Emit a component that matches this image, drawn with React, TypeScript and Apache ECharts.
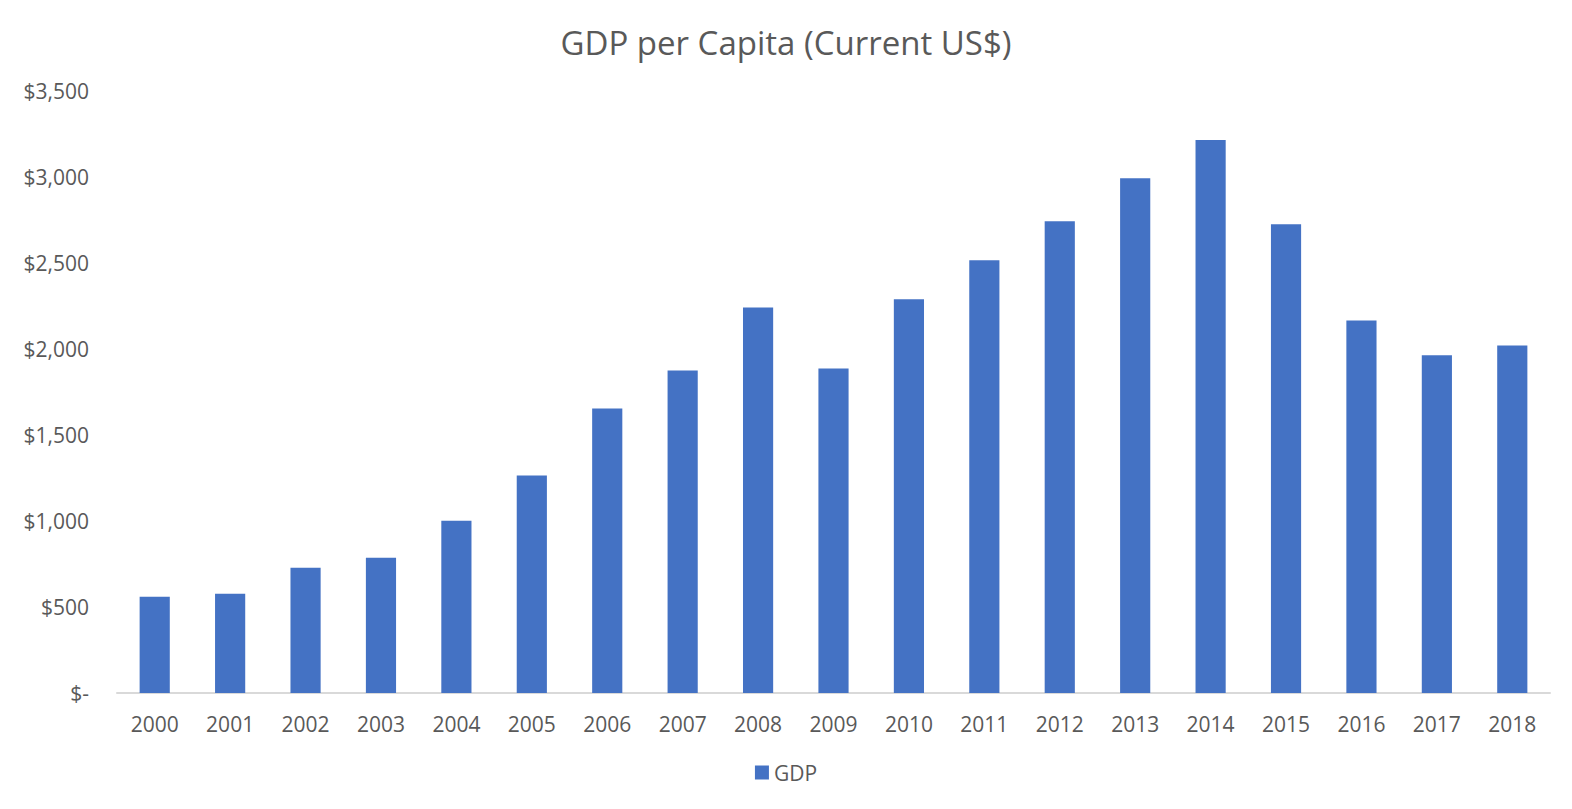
import React, { useEffect, useRef } from "react";
import * as echarts from "echarts";

const years = ["2000","2001","2002","2003","2004","2005","2006","2007","2008","2009","2010","2011","2012","2013","2014","2015","2016","2017","2018"];
const gdp = [559, 577, 728, 786, 1002, 1264, 1654, 1875, 2242, 1887, 2289, 2516, 2743, 2993, 3215, 2725, 2166, 1963, 2021];
const yTicks = { min: 0, max: 3500, interval: 500 };

const FONT = "Open Sans";
const GREY = "#595959";

function fmt(v: number): string {
  if (v === 0) return "$-";
  return "$" + v.toLocaleString("en-US");
}

export default function App() {
  const ref = useRef<HTMLDivElement>(null);
  useEffect(() => {
    if (!ref.current) return;
    const chart = echarts.init(ref.current, undefined, { renderer: "svg" });
    chart.setOption({
      animation: false,
      backgroundColor: "#ffffff",
      title: {
        text: "GDP per Capita (Current US$)",
        left: "center",
        top: 21,
        textStyle: { fontFamily: FONT, fontSize: 33, fontWeight: "normal", color: GREY },
      },
      legend: {
        bottom: 21,
        left: "center",
        icon: "rect",
        itemWidth: 14,
        itemHeight: 14,
        itemGap: 6,
        textStyle: { fontFamily: FONT, fontSize: 21, color: GREY },
        data: ["GDP"],
      },
      grid: { left: 117, right: 22, top: 91, bottom: 116 },
      xAxis: {
        type: "category",
        data: years,
        axisLine: { lineStyle: { color: "#d9d9d9", width: 2 } },
        axisTick: { show: false },
        axisLabel: { fontFamily: FONT, fontSize: 21, color: GREY, margin: 20 },
      },
      yAxis: {
        type: "value",
        min: yTicks.min,
        max: yTicks.max,
        interval: yTicks.interval,
        splitLine: { show: false },
        axisLine: { show: false },
        axisTick: { show: false },
        axisLabel: { fontFamily: FONT, fontSize: 21, color: GREY, margin: 28, formatter: fmt },
      },
      series: [
        {
          name: "GDP",
          type: "bar",
          data: gdp,
          barWidth: "40%",
          itemStyle: { color: "#4472C4" },
        },
      ],
    });
    return () => chart.dispose();
  }, []);
  return <div ref={ref} style={{ position: "fixed", left: 0, top: 0, width: 1572, height: 809 }} />;
}
